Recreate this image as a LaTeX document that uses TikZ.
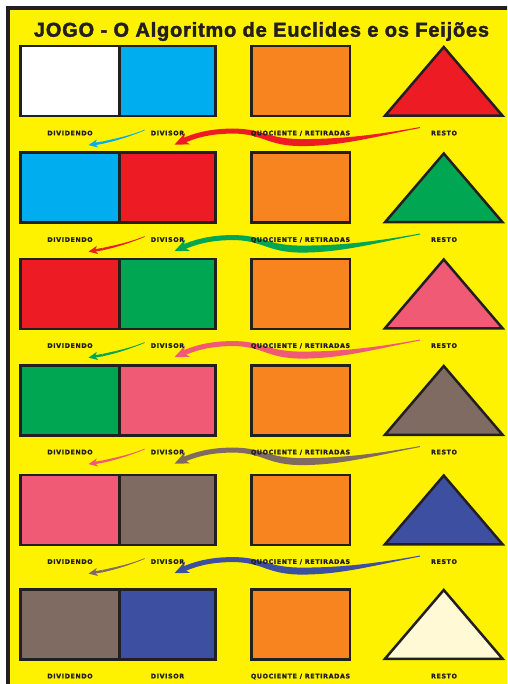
\documentclass[tikz,border=0pt]{standalone}
\usepackage{fontspec}
\setmainfont{Liberation Sans}[BoldFeatures={FakeBold=2, LetterSpace=4}]
\newfontfamily\labelfont{DejaVu Sans}[BoldFeatures={FakeBold=1.5, LetterSpace=10}]
\usetikzlibrary{arrows.meta, positioning, backgrounds}
\definecolor{jogoyellow}{HTML}{FFF200}
\definecolor{edgegray}{HTML}{231F20}
\definecolor{jogocyan}{HTML}{00AEEF}
\definecolor{jogored}{HTML}{ED1C24}
\definecolor{jogogreen}{HTML}{00A651}
\definecolor{jogopink}{HTML}{F05A74}
\definecolor{jogobrown}{HTML}{7F6B62}
\definecolor{jogoblue}{HTML}{3C4FA1}
\definecolor{jogoorange}{HTML}{F7841F}
\definecolor{jogocream}{HTML}{FFF9D6}

\begin{document}
\begin{tikzpicture}[x=1pt, y=-1pt,
  box/.style={draw=edgegray, line width=2.5pt, minimum height=70pt, inner sep=0pt},
  dvd/.style={box, minimum width=99pt},
  dvs/.style={box, minimum width=96pt},
  quo/.style={box, minimum width=98.5pt, fill=jogoorange},
  tri/.style={draw=edgegray, line width=2.5pt, line join=miter},
  lbl/.style={font=\labelfont\bfseries\fontsize{6.3}{7}\selectfont, text=edgegray, inner sep=0pt},
  title/.style={font=\bfseries\fontsize{20}{22}\selectfont, text=edgegray},
  warrow/.style={line width=5pt, -{Stealth[length=14pt,width=12pt,inset=4pt]}},
  sarrow/.style={line width=2.4pt, -{Stealth[length=9pt,width=8pt,inset=2.5pt]}},
  wave/.pic={
    \fill (0,-0.5) .. controls (-45,7.5) and (-78,11.5) .. (-118,11.5)
      .. controls (-153,11.5) and (-157,1) .. (-187,1)
      -- (-187,6) .. controls (-157,6) and (-153,18.5) .. (-118,18.5)
      .. controls (-78,18.5) and (-45,9) .. (0,0.5) -- cycle;
  },
  curl/.pic={
    \fill (0,-0.4) .. controls (-15,5.6) and (-28,8.3) .. (-42,11.3)
      -- (-42,13.7) .. controls (-28,10.7) and (-15,6.4) .. (0,0.4) -- cycle;
  }
]
  \useasboundingbox (0,0) rectangle (507,684);
  \begin{scope}[on background layer]
    \clip (0,0) rectangle (507,684);
    \fill[white] (0,0) rectangle (507,684);
    \draw[draw=edgegray, line width=3.5pt, fill=jogoyellow] (8,8) rectangle (520,700);
  \end{scope}

  \node[title, anchor=base] (title) at (261.5,36.7) {JOGO - O Algoritmo de Euclides e os Feijões};

  % row 1
  \node[dvd, fill=white] (a1) at (70,81.25) {};
  \node[dvs, fill=jogocyan] (b1) at (167.5,81.25) {};
  \node[quo] (q1) at (300.5,81.25) {};
  \draw[tri, fill=jogored] (385,115.75) -- (443.75,47) -- (502.5,115.75) -- cycle;
  % row 2
  \node[dvd, fill=jogocyan] (a2) at (70,187.75) {};
  \node[dvs, fill=jogored] (b2) at (167.5,187.75) {};
  \node[quo] (q2) at (300.5,187.75) {};
  \draw[tri, fill=jogogreen] (385,222.25) -- (443.75,153.5) -- (502.5,222.25) -- cycle;
  % row 3
  \node[dvd, fill=jogored] (a3) at (70,293.75) {};
  \node[dvs, fill=jogogreen] (b3) at (167.5,293.75) {};
  \node[quo] (q3) at (300.5,293.75) {};
  \draw[tri, fill=jogopink] (385,328.25) -- (443.75,259.5) -- (502.5,328.25) -- cycle;
  % row 4
  \node[dvd, fill=jogogreen] (a4) at (70,400.25) {};
  \node[dvs, fill=jogopink] (b4) at (167.5,400.25) {};
  \node[quo] (q4) at (300.5,400.25) {};
  \draw[tri, fill=jogobrown] (385,434.75) -- (443.75,366) -- (502.5,434.75) -- cycle;
  % row 5
  \node[dvd, fill=jogopink] (a5) at (70,509.75) {};
  \node[dvs, fill=jogobrown] (b5) at (167.5,509.75) {};
  \node[quo] (q5) at (300.5,509.75) {};
  \draw[tri, fill=jogoblue] (385,544.25) -- (443.75,475.5) -- (502.5,544.25) -- cycle;
  % row 6
  \node[dvd, fill=jogobrown] (a6) at (70,624.25) {};
  \node[dvs, fill=jogoblue] (b6) at (167.5,624.25) {};
  \node[quo] (q6) at (300.5,624.25) {};
  \draw[tri, fill=jogocream] (385,658.75) -- (443.75,590) -- (502.5,658.75) -- cycle;

  % labels
  \node[lbl, below=13pt of a1] (la1) {DIVIDENDO};
  \node[lbl, below=13pt of b1] (lb1) {DIVISOR};
  \node[lbl, below=13pt of q1] (lq1) {QUOCIENTE / RETIRADAS};
  \node[lbl] (lr1) at (444,0 |- la1) {RESTO};
  \node[lbl, below=13pt of a2] (la2) {DIVIDENDO};
  \node[lbl, below=13pt of b2] (lb2) {DIVISOR};
  \node[lbl, below=13pt of q2] (lq2) {QUOCIENTE / RETIRADAS};
  \node[lbl] (lr2) at (444,0 |- la2) {RESTO};
  \node[lbl, below=13pt of a3] (la3) {DIVIDENDO};
  \node[lbl, below=13pt of b3] (lb3) {DIVISOR};
  \node[lbl, below=13pt of q3] (lq3) {QUOCIENTE / RETIRADAS};
  \node[lbl] (lr3) at (444,0 |- la3) {RESTO};
  \node[lbl, below=13pt of a4] (la4) {DIVIDENDO};
  \node[lbl, below=13pt of b4] (lb4) {DIVISOR};
  \node[lbl, below=13pt of q4] (lq4) {QUOCIENTE / RETIRADAS};
  \node[lbl] (lr4) at (444,0 |- la4) {RESTO};
  \node[lbl, below=13pt of a5] (la5) {DIVIDENDO};
  \node[lbl, below=13pt of b5] (lb5) {DIVISOR};
  \node[lbl, below=13pt of q5] (lq5) {QUOCIENTE / RETIRADAS};
  \node[lbl] (lr5) at (444,0 |- la5) {RESTO};
  \node[lbl, below=13pt of a6] (la6) {DIVIDENDO};
  \node[lbl, below=13pt of b6] (lb6) {DIVISOR};
  \node[lbl, below=13pt of q6] (lq6) {QUOCIENTE / RETIRADAS};
  \node[lbl] (lr6) at (444,0 |- la6) {RESTO};

  % resto -> divisor, divisor -> dividendo
  \begin{scope}[on background layer]
    \coordinate (ws1) at ([xshift=-11pt,yshift=5.5pt]lr1.west);
    \coordinate (wh1) at ([shift={(-187,3.5)}]ws1);
    \coordinate (wt1) at ([xshift=7pt,yshift=-11.5pt]lb1.center);
    \coordinate (cs1) at ([xshift=-6pt,yshift=3pt]lb1.west);
    \coordinate (ce1) at ([shift={(-42,12.5)}]cs1);
    \coordinate (ct1) at ([xshift=18.5pt,yshift=-12pt]la1.center);
    \pic[color=jogored] at (ws1) {wave};
    \draw[warrow, jogored] (wh1) .. controls +(-25,0) and +(18,-8) .. (wt1);
    \pic[color=jogocyan] at (cs1) {curl};
    \draw[sarrow, jogocyan] (ce1) -- (ct1);

    \coordinate (ws2) at ([xshift=-11pt,yshift=5.5pt]lr2.west);
    \coordinate (wh2) at ([shift={(-187,3.5)}]ws2);
    \coordinate (wt2) at ([xshift=7pt,yshift=-11.5pt]lb2.center);
    \coordinate (cs2) at ([xshift=-6pt,yshift=3pt]lb2.west);
    \coordinate (ce2) at ([shift={(-42,12.5)}]cs2);
    \coordinate (ct2) at ([xshift=18.5pt,yshift=-12pt]la2.center);
    \pic[color=jogogreen] at (ws2) {wave};
    \draw[warrow, jogogreen] (wh2) .. controls +(-25,0) and +(18,-8) .. (wt2);
    \pic[color=jogored] at (cs2) {curl};
    \draw[sarrow, jogored] (ce2) -- (ct2);

    \coordinate (ws3) at ([xshift=-11pt,yshift=5.5pt]lr3.west);
    \coordinate (wh3) at ([shift={(-187,3.5)}]ws3);
    \coordinate (wt3) at ([xshift=7pt,yshift=-11.5pt]lb3.center);
    \coordinate (cs3) at ([xshift=-6pt,yshift=3pt]lb3.west);
    \coordinate (ce3) at ([shift={(-42,12.5)}]cs3);
    \coordinate (ct3) at ([xshift=18.5pt,yshift=-12pt]la3.center);
    \pic[color=jogopink] at (ws3) {wave};
    \draw[warrow, jogopink] (wh3) .. controls +(-25,0) and +(18,-8) .. (wt3);
    \pic[color=jogogreen] at (cs3) {curl};
    \draw[sarrow, jogogreen] (ce3) -- (ct3);

    \coordinate (ws4) at ([xshift=-11pt,yshift=5.5pt]lr4.west);
    \coordinate (wh4) at ([shift={(-187,3.5)}]ws4);
    \coordinate (wt4) at ([xshift=7pt,yshift=-11.5pt]lb4.center);
    \coordinate (cs4) at ([xshift=-6pt,yshift=3pt]lb4.west);
    \coordinate (ce4) at ([shift={(-42,12.5)}]cs4);
    \coordinate (ct4) at ([xshift=18.5pt,yshift=-12pt]la4.center);
    \pic[color=jogobrown] at (ws4) {wave};
    \draw[warrow, jogobrown] (wh4) .. controls +(-25,0) and +(18,-8) .. (wt4);
    \pic[color=jogopink] at (cs4) {curl};
    \draw[sarrow, jogopink] (ce4) -- (ct4);

    \coordinate (ws5) at ([xshift=-11pt,yshift=5.5pt]lr5.west);
    \coordinate (wh5) at ([shift={(-187,3.5)}]ws5);
    \coordinate (wt5) at ([xshift=7pt,yshift=-11.5pt]lb5.center);
    \coordinate (cs5) at ([xshift=-6pt,yshift=3pt]lb5.west);
    \coordinate (ce5) at ([shift={(-42,12.5)}]cs5);
    \coordinate (ct5) at ([xshift=18.5pt,yshift=-12pt]la5.center);
    \pic[color=jogoblue] at (ws5) {wave};
    \draw[warrow, jogoblue] (wh5) .. controls +(-25,0) and +(18,-8) .. (wt5);
    \pic[color=jogobrown] at (cs5) {curl};
    \draw[sarrow, jogobrown] (ce5) -- (ct5);
  \end{scope}
\end{tikzpicture}
\end{document}
